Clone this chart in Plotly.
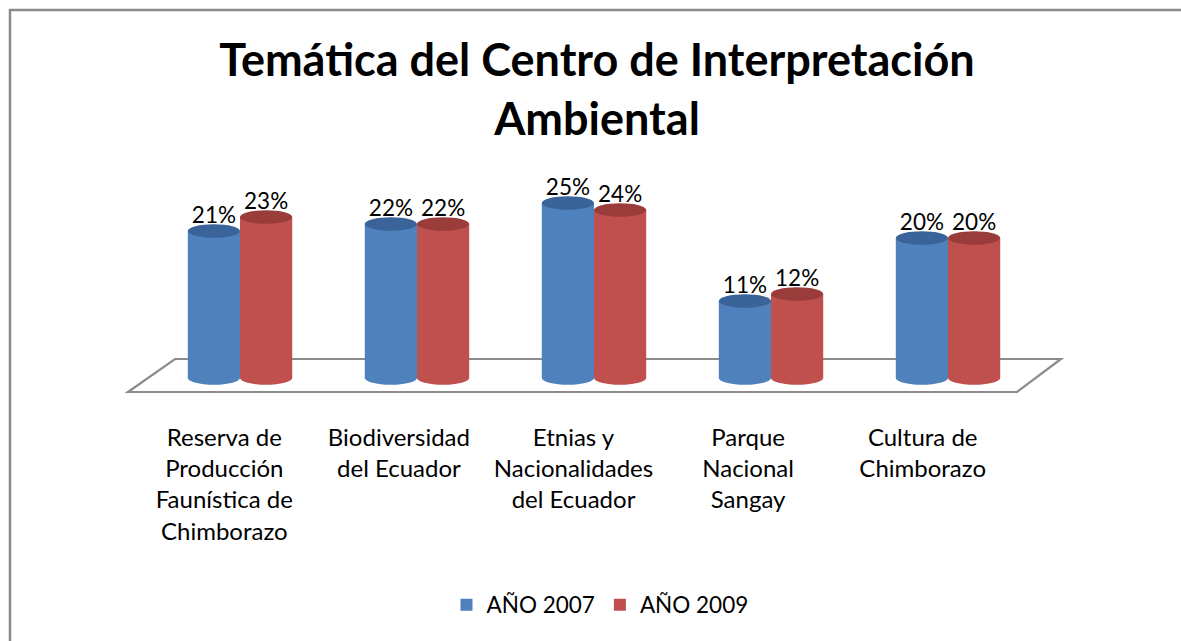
import plotly.graph_objects as go

# ---- data ----
categories = [
    "Reserva de<br>Producción<br>Faunística de<br>Chimborazo",
    "Biodiversidad<br>del Ecuador",
    "Etnias y<br>Nacionalidades<br>del Ecuador",
    "Parque<br>Nacional<br>Sangay",
    "Cultura de<br>Chimborazo",
]
series_names = ["AÑO 2007", "AÑO 2009"]
values_2007 = [21, 22, 25, 11, 20]
values_2009 = [23, 22, 24, 12, 20]

# ---- style ----
W, H = 1181, 641
FONT = "Lato"
blue, red = "#4F81BD", "#C0504D"
blue_top, red_top = "#3A6499", "#9A3C39"
BARGAP = 0.41
bw = (1 - BARGAP) / 2
ELL = 0.95  # half-height of cylinder ellipse in data units

def px_x(p):
    return p / W

def px_y(p):
    return (H - p) / H

fig = go.Figure()
for name, vals, col in [(series_names[0], values_2007, blue), (series_names[1], values_2009, red)]:
    fig.add_trace(go.Bar(
        x=categories, y=vals, name=name,
        marker=dict(color=col, line=dict(width=0)),
        text=[f"{v}%" for v in vals], textposition="outside",
        textfont=dict(family=FONT, size=22.5, color="black"),
        cliponaxis=False,
    ))

# dummy trace so the label axis is drawn
fig.add_trace(go.Scatter(x=[None], y=[None], xaxis="x2", yaxis="y",
                         showlegend=False, hoverinfo="skip"))

shapes = []
# frame (top and left edges)
shapes.append(dict(type="path", xref="paper", yref="paper",
                   path=f"M {px_x(10)},0 L {px_x(10)},{px_y(10)} L 1,{px_y(10)}",
                   line=dict(color="#8A8A8A", width=2.5), layer="below"))
# floor
fl = [(128, 392), (175, 359), (1061, 359), (1017, 392)]
path = "M " + " L ".join(f"{px_x(a)},{px_y(b)}" for a, b in fl) + " Z"
shapes.append(dict(type="path", xref="paper", yref="paper", path=path,
                   line=dict(color="#8C8C8C", width=2.2), fillcolor="rgba(0,0,0,0)",
                   layer="below"))

# cylinder caps derived from data
for k, (vals, col, topcol) in enumerate([(values_2007, blue, blue_top), (values_2009, red, red_top)]):
    for i, v in enumerate(vals):
        c = i - bw / 2 if k == 0 else i + bw / 2
        shapes.append(dict(type="circle", xref="x", yref="y",
                           x0=c - bw / 2, x1=c + bw / 2, y0=-ELL, y1=ELL,
                           fillcolor=col, line=dict(width=0), layer="above"))
        shapes.append(dict(type="circle", xref="x", yref="y",
                           x0=c - bw / 2, x1=c + bw / 2, y0=v - ELL, y1=v + ELL,
                           fillcolor=topcol, line=dict(width=0), layer="above"))

y_zero = 378
ppu = 7.0
y_top_px = y_zero - 30 * ppu
y_bot_px = y_zero + 1 * ppu

fig.update_layout(
    width=W, height=H,
    margin=dict(l=0, r=0, t=0, b=0),
    paper_bgcolor="white", plot_bgcolor="rgba(0,0,0,0)",
    barmode="group", bargap=BARGAP, bargroupgap=0,
    title=dict(text="<b>Temática del Centro de Interpretación<br>Ambiental</b>",
               x=597 / W, xanchor="center", y=px_y(76), yanchor="top",
               font=dict(family=FONT, size=45, color="black")),
    xaxis=dict(domain=[px_x(151.5), px_x(1036.5)], showticklabels=False,
               showgrid=False, zeroline=False, showline=False, ticks="",
               range=[-0.5, 4.5]),
    xaxis2=dict(domain=[px_x(137), px_x(1010)], anchor="y", range=[-0.5, 4.5],
                tickmode="array", tickvals=list(range(len(categories))), ticktext=categories,
                showgrid=False, zeroline=False, showline=False, ticks="",
                ticklabelstandoff=36,
                tickfont=dict(family=FONT, size=24, color="black")),
    yaxis=dict(domain=[px_y(y_bot_px), px_y(y_top_px)], range=[-1, 30],
               visible=False, showgrid=False, zeroline=False),
    legend=dict(orientation="h", x=600 / W, xanchor="center", y=px_y(605), yanchor="middle",
                font=dict(family=FONT, size=22.5, color="black"), itemwidth=30,
                traceorder="normal"),
    shapes=shapes,
    showlegend=True,
)

fig.write_html("out.html", config={"displayModeBar": False},
               post_script="document.body.style.margin='0';")
